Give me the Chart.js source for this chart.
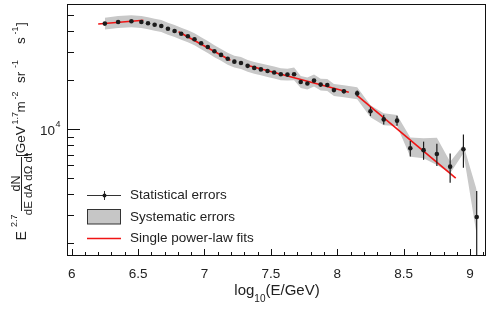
<!DOCTYPE html>
<html>
<head>
<meta charset="utf-8">
<script src="https://cdn.jsdelivr.net/npm/chart.js@4.4.0/dist/chart.umd.min.js"></script>
<style>
    html, body { margin: 0; padding: 0; background: #fff; }
    #wrap { width: 490px; height: 309px; }
</style>
</head>
<body>
<div id="wrap"><canvas id="spectrum" width="490" height="309"></canvas></div>
<script>
// Bin centres in log10(E/GeV)
const logE = [6.25, 6.35, 6.45, 6.525, 6.575, 6.625, 6.675, 6.725, 6.775, 6.825, 6.875, 6.925, 6.975,
    7.025, 7.075, 7.125, 7.175, 7.225, 7.275, 7.325, 7.375, 7.425, 7.475, 7.525, 7.575, 7.625, 7.675,
    7.725, 7.775, 7.825, 7.875, 7.925, 7.975, 8.05, 8.15, 8.25, 8.35, 8.45, 8.55, 8.65, 8.75, 8.85, 8.95, 9.05]

// E^2.7 weighted flux
const flux = [44500, 45500, 46000, 45500, 44700, 43800, 43000, 41400, 40100, 38600, 37200, 35700, 33700,
    32000, 30100, 28600, 27100, 26000, 25500, 24500, 23800, 23300, 22800, 22300, 21750, 21650, 21750,
    19500, 19100, 19900, 18800, 18700, 17400, 17100, 16600, 12900, 11500, 11300, 7650, 7450, 7050, 5900, 7550, 2900]

// statistical errors (symmetric)
const statErr = [150, 150, 150, 150, 150, 150, 150, 150, 150, 150, 150, 150, 150,
    150, 150, 150, 150, 150, 150, 150, 200, 200, 200, 250, 250, 250, 300,
    350, 350, 400, 400, 400, 370, 500, 720, 850, 800, 790, 830, 950, 1090, 1200, 1740, 1290]

// systematic band edges
const sysHigh = [48420, 49500, 50050, 49500, 48630, 47650, 46780, 45040, 43630, 42000, 40470, 38840, 36670,
    34820, 32750, 31120, 29480, 28290, 27740, 26660, 25890, 25350, 24810, 24260, 23660, 23560, 23900,
    21220, 20780, 21650, 20450, 20350, 18930, 18600, 18100, 14040, 12540, 12240, 8910, 8800, 8880, 6330, 8010, 4240]
const sysLow = [40900, 41820, 42280, 41820, 41080, 40260, 39520, 38050, 36860, 35480, 34190, 32810, 30970,
    29410, 27670, 26290, 24910, 23900, 23440, 22520, 21880, 21420, 20960, 20500, 19990, 19900, 19990,
    17920, 17560, 18290, 17280, 17190, 15990, 15720, 15270, 11850, 10580, 10480, 6790, 6640, 6040, 5370, 7120, 2250]

// single power-law fit segments (end points)
const fitX = [[6.2, 6.54], [6.805, 7.195], [7.314, 8.087], [8.151, 8.892]]
const fitY = [[44270, 46650], [39700, 26500], [24800, 16870], [16070, 5020]]

const xTickValues = [6, 6.5, 7, 7.5, 8, 8.5, 9]
const xTickLabels = ["6", "6.5", "7", "7.5", "8", "8.5", "9"]
const yMinorTicks = [2000, 3000, 4000, 5000, 6000, 7000, 8000, 9000, 20000, 30000, 40000, 50000]
const yMajorTick = 10000

const legendLabels = ["Statistical errors", "Systematic errors", "Single power-law fits"]

const FONT = '"Liberation Sans", Arial, sans-serif'
const TEXT = '#222'

// draw text rotated by -90deg, baseline at screen x = bx
function rotText(ctx, str, bx, y, size, align) {
    ctx.save()
    ctx.translate(bx, y)
    ctx.rotate(-Math.PI / 2)
    ctx.font = size + 'px ' + FONT
    ctx.textAlign = align
    ctx.textBaseline = 'alphabetic'
    ctx.fillText(str, 0, 0)
    ctx.restore()
}

const errorBars = {
    id: 'errorBars',
    afterDatasetsDraw(chart) {
        const { ctx, chartArea: a, scales: { x, y } } = chart
        ctx.save()
        ctx.beginPath()
        ctx.rect(a.left, a.top, a.right - a.left, a.bottom - a.top)
        ctx.clip()
        ctx.strokeStyle = '#1c1c1c'
        ctx.lineWidth = 1.2
        logE.forEach((e, i) => {
            const px = x.getPixelForValue(e)
            const top = y.getPixelForValue(flux[i] + statErr[i])
            const bot = y.getPixelForValue(Math.max(flux[i] - statErr[i], 1))
            ctx.beginPath()
            ctx.moveTo(px, top)
            ctx.lineTo(px, bot)
            ctx.stroke()
        })
        ctx.restore()
    }
}

const decorations = {
    id: 'decorations',
    afterDraw(chart) {
        const { ctx, chartArea: a, scales: { x, y } } = chart
        ctx.save()

        // frame
        ctx.strokeStyle = '#111'
        ctx.lineWidth = 1
        ctx.strokeRect(a.left + 0.5, a.top + 0.5, a.right - a.left - 1, a.bottom - a.top - 1)

        // x ticks, inside the frame
        ctx.beginPath()
        for (let k = 0; k <= 31; k++) {
            const v = 6 + k * 0.1
            const px = Math.round(x.getPixelForValue(v)) + 0.5
            const len = (k % 5 === 0) ? 7 : 4
            ctx.moveTo(px, a.bottom)
            ctx.lineTo(px, a.bottom - len)
        }
        ctx.stroke()

        // y ticks
        ctx.beginPath()
        yMinorTicks.forEach(v => {
            const py = Math.round(y.getPixelForValue(v)) + 0.5
            ctx.moveTo(a.left, py)
            ctx.lineTo(a.left + 7, py)
        })
        const pyMaj = Math.round(y.getPixelForValue(yMajorTick)) + 0.5
        ctx.moveTo(a.left, pyMaj)
        ctx.lineTo(a.left + 13, pyMaj)
        ctx.stroke()

        // x tick labels
        ctx.fillStyle = TEXT
        ctx.font = '13.5px ' + FONT
        ctx.textAlign = 'center'
        ctx.textBaseline = 'alphabetic'
        xTickValues.forEach((v, i) => {
            ctx.fillText(xTickLabels[i], x.getPixelForValue(v), 278)
        })

        // y tick label 10^4
        ctx.textAlign = 'right'
        ctx.fillText('10', 55, pyMaj + 5.5)
        ctx.textAlign = 'left'
        ctx.font = '9px ' + FONT
        ctx.fillText('4', 55.5, pyMaj - 3)

        // x title: log10(E/GeV)
        ctx.font = '15px ' + FONT
        const w1 = ctx.measureText('log').width
        const w3 = ctx.measureText('(E/GeV)').width
        ctx.font = '10px ' + FONT
        const w2 = ctx.measureText('10').width
        let sx = 277 - (w1 + w2 + w3) / 2
        ctx.font = '15px ' + FONT
        ctx.fillText('log', sx, 295)
        ctx.font = '10px ' + FONT
        ctx.fillText('10', sx + w1, 302)
        ctx.font = '15px ' + FONT
        ctx.fillText('(E/GeV)', sx + w1 + w2, 295)

        // y title
        rotText(ctx, 'E', 25.5, 240.5, 14, 'left')
        rotText(ctx, '2.7', 17, 227, 9, 'left')
        rotText(ctx, 'dN', 19.5, 183.5, 12.5, 'center')
        ctx.fillRect(21, 157, 1, 54)
        rotText(ctx, 'dE dA d\u03A9 dt', 32, 184, 11.5, 'center')
        rotText(ctx, '[GeV', 25, 157, 13.5, 'left')
        rotText(ctx, '1.7', 18, 124.5, 9, 'left')
        rotText(ctx, 'm', 25, 112.5, 13.5, 'left')
        rotText(ctx, '-2', 18, 99.5, 9, 'left')
        rotText(ctx, 'sr', 25, 83, 13.5, 'left')
        rotText(ctx, '-1', 18, 68, 9, 'left')
        rotText(ctx, 's', 25, 44, 13.5, 'left')
        rotText(ctx, '-1', 18, 34.5, 9, 'left')
        rotText(ctx, ']', 25, 26, 13.5, 'left')

        // legend
        const lx0 = 87, lx1 = 121
        // statistical errors
        ctx.strokeStyle = '#333'
        ctx.lineWidth = 1
        ctx.beginPath()
        ctx.moveTo(lx0, 195.5)
        ctx.lineTo(lx1, 195.5)
        ctx.moveTo(104.5, 191)
        ctx.lineTo(104.5, 200)
        ctx.stroke()
        ctx.fillStyle = '#1c1c1c'
        ctx.beginPath()
        ctx.arc(104.5, 195.5, 2, 0, Math.PI * 2)
        ctx.fill()
        // systematic box
        ctx.fillStyle = '#c6c6c6'
        ctx.fillRect(lx0, 209.5, lx1 - lx0, 14.5)
        ctx.strokeStyle = '#333'
        ctx.strokeRect(lx0 + 0.5, 209.5, lx1 - lx0 - 1, 14.5)
        // fit line
        ctx.strokeStyle = 'rgb(240,20,20)'
        ctx.lineWidth = 1.5
        ctx.beginPath()
        ctx.moveTo(lx0, 238.5)
        ctx.lineTo(lx1, 238.5)
        ctx.stroke()

        ctx.fillStyle = TEXT
        ctx.font = '13.5px ' + FONT
        ctx.textAlign = 'left'
        ctx.textBaseline = 'middle'
        ctx.fillText(legendLabels[0], 130, 195.5)
        ctx.fillText(legendLabels[1], 130, 217)
        ctx.fillText(legendLabels[2], 130, 238.5)

        ctx.restore()
    }
}

const pointData = logE.map((e, i) => ({ x: e, y: flux[i] }))
const highData = logE.map((e, i) => ({ x: e, y: sysHigh[i] }))
const lowData = logE.map((e, i) => ({ x: e, y: sysLow[i] }))

const fitDatasets = fitX.map((xs, k) => ({
    type: 'line',
    data: xs.map((v, j) => ({ x: v, y: fitY[k][j] })),
    borderColor: 'rgb(240,20,20)',
    borderWidth: 1.6,
    pointRadius: 0,
    fill: false
}))

const ctx = document.getElementById('spectrum').getContext('2d')

const spectrumChart = new Chart(ctx, {
    type: 'scatter',
    data: {
        datasets: [
            {
                data: pointData,
                pointRadius: 2.3,
                backgroundColor: '#1c1c1c',
                borderWidth: 0,
                showLine: false
            },
            ...fitDatasets,
            {
                type: 'line',
                data: highData,
                borderColor: 'rgba(0,0,0,0)',
                borderWidth: 0.01,
                pointRadius: 0,
                backgroundColor: '#c8c8c8',
                fill: '+1'
            },
            {
                type: 'line',
                data: lowData,
                borderColor: 'rgba(0,0,0,0)',
                borderWidth: 0.01,
                pointRadius: 0,
                fill: false
            }
        ]
    },
    options: {
        responsive: false,
        animation: false,
        devicePixelRatio: 1,
        layout: { padding: { left: 67, right: 4, top: 4, bottom: 53 } },
        plugins: {
            legend: { display: false },
            tooltip: { enabled: false }
        },
        scales: {
            x: { type: 'linear', min: 5.965, max: 9.12, display: false },
            y: { type: 'logarithmic', min: 1670, max: 58700, display: false }
        }
    },
    plugins: [errorBars, decorations]
})
</script>
</body>
</html>
